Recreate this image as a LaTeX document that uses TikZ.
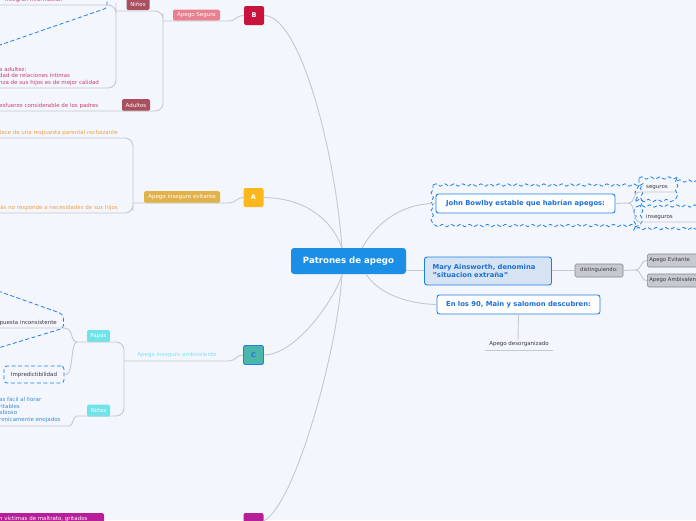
\documentclass[tikz,border=0pt]{standalone}
\usepackage{fontspec}
\setmainfont{DejaVu Sans}
\usetikzlibrary{decorations.pathmorphing}
\definecolor{bg}{HTML}{F3F6FD}
\definecolor{lineg}{HTML}{C4C8CF}
\definecolor{cenblue}{HTML}{1B8FE5}
\definecolor{bred}{HTML}{C8143C}
\definecolor{bpink}{HTML}{E8808F}
\definecolor{brose}{HTML}{A94F5E}
\definecolor{btext}{HTML}{C8406C}
\definecolor{aorange}{HTML}{FDB61C}
\definecolor{agold}{HTML}{E2B24A}
\definecolor{atext}{HTML}{F0A044}
\definecolor{cteal}{HTML}{4DB6AC}
\definecolor{ccyan}{HTML}{6EE3EA}
\definecolor{ctextlight}{HTML}{7FE3EA}
\definecolor{ctext}{HTML}{3C8CD0}
\definecolor{dmag}{HTML}{B81E9A}
\definecolor{blueb}{HTML}{1E7FE6}
\definecolor{bluet}{HTML}{1C70D8}
\definecolor{maryfill}{HTML}{D5E3F3}
\definecolor{grayfill}{HTML}{C6CAD0}
\definecolor{grayb}{HTML}{80868E}
\definecolor{darkt}{HTML}{3A3A3A}
\tikzset{
  conn/.style={draw=lineg, line width=0.9pt},
  box/.style={rounded corners=1.5pt, inner sep=0pt, font=\fontsize{5.5}{6.5}\selectfont, text=white},
  letter/.style={rounded corners=2pt, inner sep=0pt, minimum width=20pt, minimum height=19pt, font=\fontsize{6.5}{7.5}\selectfont\bfseries, text=white},
  hdr/.style={rounded corners=2.5pt, draw=blueb, line width=0.9pt, fill=white, text=bluet, inner sep=0pt, font=\fontsize{6.8}{8.3}\selectfont\bfseries},
  small/.style={inner sep=0pt, font=\fontsize{5.5}{6.5}\selectfont},
  graybox/.style={rounded corners=1.5pt, inner sep=0pt, fill=grayfill, draw=grayb, line width=0.6pt, text=darkt, font=\fontsize{5.3}{6.3}\selectfont},
  bnd/.style={draw=blueb, line width=0.8pt, dash pattern=on 4pt off 2.5pt},
  wavy/.style={bnd, decorate, decoration={snake, segment length=9pt, amplitude=1.2pt}},
}
\begin{document}
\begin{tikzpicture}[x=1pt,y=-1pt]
\useasboundingbox (0,0) rectangle (696,520);
\fill[bg] (0,0) rectangle (696,520);
\clip (0,0) rectangle (696,520);

% ---------- coordinates ----------
\coordinate (asL) at (163,21);
\coordinate (asR) at (228,21);
\coordinate (nbL) at (116,11);
\coordinate (t1L) at (0,5);
\coordinate (t2L) at (0,88);
\coordinate (t3L) at (0,111);
\coordinate (aieL) at (133,203);
\coordinate (aieR) at (228,203);
\coordinate (a1L) at (0,138);
\coordinate (a2L) at (0,213);
\coordinate (ambL) at (124,361);
\coordinate (ambR) at (228,361);
\coordinate (pcL) at (77,342);
\coordinate (ncL) at (77,416);
\coordinate (pc1R) at (64,328);
\coordinate (pc1L) at (0,328);
\coordinate (nc1R) at (69,426);
\coordinate (nc1L) at (0,426);
\coordinate (cenTL) at (342,248);
\coordinate (cenTR) at (362,248);
\coordinate (cenBL) at (342,274);
\coordinate (cenBR) at (366,274);
\coordinate (cenM) at (406,270);
\coordinate (jbF) at (628,203);
\coordinate (segL) at (640,192);
\coordinate (segR) at (676,192);
\coordinate (insL) at (640,222);
\coordinate (insR) at (700,222);
\coordinate (dsF) at (635,270);
\coordinate (desU) at (518,340);
\coordinate (desL) at (485,350);
\coordinate (desR) at (553,350);

% ---------- boundaries ----------
\draw[bnd, rounded corners=2pt] (107,-5) -- (107,8) -- (0,45);
\draw[bnd, rounded corners=4pt] (-2,291) -- (63,314) -- (64,328) -- (-2,348);
\draw[wavy] (433,185) -- (640,185) -- (640,226) -- (433,226) -- cycle;
\draw[wavy] (639,178) -- (677,178) -- (677,201) -- (639,201) -- cycle;
\draw[wavy] (677,181) -- (705,181);
\draw[wavy] (720,206) -- (638,206) -- (638,228) -- (720,228);

% ---------- nodes ----------
\node[box, fill=cenblue, minimum width=115pt, minimum height=26pt, rounded corners=3pt, font=\fontsize{8.6}{9.6}\selectfont\bfseries] (cen) at (348.5,261) {Patrones de apego};

% B
\node[letter, fill=bred] (b) at (254,15.5) {B};
\node[box, fill=bpink, minimum width=47pt, minimum height=11pt] (as) at (196.5,15) {Apego Seguro};
\node[box, fill=brose, minimum width=23pt, minimum height=12pt] (nb) at (138,4) {Niños};
\node[box, fill=brose, minimum width=28pt, minimum height=12pt] (ab) at (136,105) {Adultos};
\node[small, text=btext, anchor=west] (b1) at (5,0) {integran información};
\node[small, text=btext, anchor=west, align=left] (b2) at (-1,76) {a adultez:\\dad de relaciones íntimas\\nza de sus hijos es de mejor calidad};
\node[small, text=btext, anchor=west] (b3) at (-1,106) {esfuerzo considerable de los padres};

% A
\node[letter, fill=aorange] (a) at (253.5,197.5) {A};
\node[box, fill=agold, minimum width=76pt, minimum height=12pt] (aie) at (182,197) {Apego inseguro evitante};
\node[small, text=atext, anchor=east] (a1) at (118,133) {lace de una respuesta parental rechazante};
\node[small, text=atext, anchor=east] (a2) at (118,208) {ás no responde a necesidades de sus hijos};

% C
\node[letter, fill=cteal, draw=blueb, line width=0.9pt, text=bluet] (c) at (253.5,355) {C};
\node[small, text=ctextlight] (amb) at (177,355) {Apego inseguro ambivalente};
\node[box, fill=ccyan, minimum width=23pt, minimum height=12pt] (pc) at (98.5,336) {Papás};
\node[box, fill=ccyan, minimum width=23pt, minimum height=12pt] (nc) at (98.5,410.5) {Niños};
\node[small, text=darkt, anchor=east] (pc1) at (57,323) {puesta inconsistente};
\node[small, text=darkt, rounded corners=3pt, draw=blueb, line width=0.8pt, dash pattern=on 4pt off 2.5pt, minimum width=60pt, minimum height=17pt] (imp) at (34,374.5) {Impredictibilidad};
\node[small, text=ctext, anchor=west, align=left, font=\fontsize{5.5}{6.7}\selectfont] (nc1) at (-1,410) {as fácil al llorar\\ritables\\abioso\\ronicamente enojados};

% D
\node[letter, fill=dmag, minimum height=16pt] (d) at (253.5,521) {};
\node[box, fill=dmag, minimum width=106pt, minimum height=16pt, anchor=north west] (d1) at (-2,513) {};
\node[small, text=white, anchor=west] (d1t) at (-1,518.5) {n víctimas de maltrato, gritados};

% right side
\node[hdr, minimum width=179pt, minimum height=19pt] (jb) at (525.5,203.5) {John Bowlby estable que habrían apegos:};
\node[small, text=darkt] (seg) at (657,188) {seguros};
\node[small, text=darkt, anchor=west] (ins) at (646,217) {inseguros};
\node[hdr, fill=maryfill, minimum width=127pt, minimum height=28pt, align=left, text width=111pt] (mary) at (488,271) {Mary Ainsworth, denomina\\"situacion extraña"};
\node[graybox, minimum width=48pt, minimum height=13pt] (dist) at (599,270.5) {distinguiendo:};
\node[graybox, minimum width=60pt, minimum height=13pt, anchor=west, text width=56pt, align=left] (ev) at (647,260.5) {Apego Evitante};
\node[graybox, minimum width=60pt, minimum height=13pt, anchor=west, text width=56pt, align=left] (amv) at (647,280.5) {Apego Ambivalente};
\node[hdr, minimum width=163pt, minimum height=19pt] (m90) at (518.5,304.5) {En los 90, Main y salomon descubren:};
\node[small, text=darkt] (des) at (519,344) {Apego desorganizado};

% ---------- connectors ----------
\draw[conn, rounded corners=8pt] (nbL) -| (asL) |- (t3L);
\draw[conn, rounded corners=8pt] (t1L) -| (nbL) |- (t2L);
\draw[conn] (asL) -- (asR) .. controls (236,21) and (236,15.5) .. (b.west);

\draw[conn, rounded corners=8pt] (a1L) -| (aieL) |- (a2L);
\draw[conn] (aieL) -- (aieR) .. controls (236,203) and (236,198) .. (a.west);

\draw[conn, rounded corners=8pt] (pcL) -| (ambL) |- (ncL);
\draw[conn] (ambL) -- (ambR) .. controls (236,361) and (236,355) .. (c.west);
\draw[conn] (pc1L) -- (pc1R) .. controls (74,328) and (70,342) .. (pcL);
\draw[conn] (imp.east) .. controls (74,378) and (70,342) .. (pcL);
\draw[conn] (nc1L) -- (nc1R) .. controls (74,426) and (72,416) .. (ncL);

\draw[conn] (b.east) .. controls (300,16) and (335,150) .. (cenTL);
\draw[conn] (a.east) .. controls (300,198) and (330,215) .. (cenTL);
\draw[conn] (c.east) .. controls (295,355) and (335,300) .. (cenBL);
\draw[conn] (d.east) .. controls (295,505) and (338,350) .. (cenBL);
\draw[conn] (cenTR) .. controls (378,220) and (405,203) .. (jb.west);
\draw[conn] (cenM) -- (mary.west |- cenM);
\draw[conn] (cenBR) .. controls (380,296) and (412,304) .. (m90.west);

\draw[conn] (jb.east) -- (jbF);
\draw[conn] (jbF) .. controls (636,203) and (632,192) .. (segL) -- (segR);
\draw[conn] (jbF) .. controls (636,203) and (632,222) .. (insL) -- (insR);
\draw[conn] (mary.east |- dist) -- (dist.west);
\draw[conn] (dist.east) -- (dsF);
\draw[conn] (dsF) .. controls (642,270) and (640,260.5) .. (ev.west);
\draw[conn] (dsF) .. controls (642,270) and (640,280.5) .. (amv.west);
\draw[conn] (m90.south) -- (desU);
\draw[conn] (desL) -- (desR);
\end{tikzpicture}
\end{document}
